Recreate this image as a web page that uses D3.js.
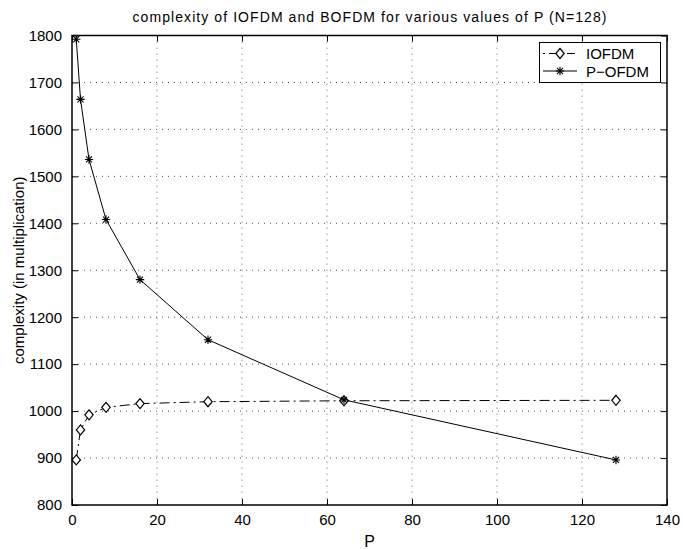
<!DOCTYPE html>
<html>
<head>
<meta charset="utf-8">
<script src="https://cdn.jsdelivr.net/npm/d3@7"></script>
<style>
html,body{margin:0;padding:0;background:#fff;}
svg{display:block;font-family:"Liberation Sans",Arial,Helvetica,sans-serif;}
</style>
</head>
<body>
<svg id="chart" width="683" height="549"></svg>
<script>
const P = [1, 2, 4, 8, 16, 32, 64, 128];
const iofdm = [896, 960, 992, 1008, 1016, 1020, 1022, 1023];
const pofdm = [1792, 1664, 1536, 1408, 1280, 1152, 1024, 896];
const xTicks = [0, 20, 40, 60, 80, 100, 120, 140];
const yTicks = [800, 900, 1000, 1100, 1200, 1300, 1400, 1500, 1600, 1700, 1800];
const seriesNames = ["IOFDM", "P\u2212OFDM"];
const titleText = "complexity of IOFDM and BOFDM for various values of P (N=128)";
const xLabel = "P";
const yLabel = "complexity (in multiplication)";

const svg = d3.select("#chart");
const L = 72, R = 667, T = 35.5, B = 505;
const x = d3.scaleLinear().domain([0, 140]).range([L, R]);
const y = d3.scaleLinear().domain([800, 1800]).range([B, T]);

// grid
const grid = svg.append("g");
grid.selectAll(".gx").data(xTicks.filter(d => d > 0 && d < 140)).enter().append("line")
  .attr("x1", d => x(d)).attr("x2", d => x(d)).attr("y1", T).attr("y2", B)
  .attr("stroke", "#999").attr("stroke-width", 1).attr("stroke-dasharray", "1.5,4.5");
grid.selectAll(".gy").data(yTicks.filter(d => d > 800 && d < 1800)).enter().append("line")
  .attr("x1", L).attr("x2", R).attr("y1", d => y(d)).attr("y2", d => y(d))
  .attr("stroke", "#555").attr("stroke-width", 1).attr("stroke-dasharray", "1,5");

// axes
const fs = 15;
const fmt = d3.format("d");
const xAxisB = d3.axisBottom(x).tickValues(xTicks).tickSize(-6).tickPadding(9).tickFormat(fmt);
const xAxisT = d3.axisTop(x).tickValues(xTicks).tickSize(-6).tickFormat("");
const yAxisL = d3.axisLeft(y).tickValues(yTicks).tickSize(-6).tickPadding(10).tickFormat(fmt);
const yAxisR = d3.axisRight(y).tickValues(yTicks).tickSize(-6).tickFormat("");
function style(g){
  g.select(".domain").remove();
  g.selectAll("line").attr("stroke", "#000").attr("stroke-width", 1);
  g.selectAll("text").attr("fill", "#000").style("font-size", fs + "px").style("font-family", '"Liberation Sans",Arial,sans-serif');
}
svg.append("g").attr("transform", `translate(0,${B})`).call(xAxisB).call(style);
svg.append("g").attr("transform", `translate(0,${T})`).call(xAxisT).call(style);
svg.append("g").attr("transform", `translate(${L},0)`).call(yAxisL).call(style);
svg.append("g").attr("transform", `translate(${R},0)`).call(yAxisR).call(style);
svg.append("rect").attr("x", L).attr("y", T).attr("width", R - L).attr("height", B - T)
  .attr("fill", "none").attr("stroke", "#000").attr("stroke-width", 1.5);

// lines
const line = d3.line().x(d => x(d[0])).y(d => y(d[1]));
const dIO = P.map((p, i) => [p, iofdm[i]]);
const dPO = P.map((p, i) => [p, pofdm[i]]);
svg.append("path").datum(dIO).attr("d", line).attr("fill", "none").attr("stroke", "#000")
  .attr("stroke-width", 1).attr("stroke-dasharray", "10,4,2,4");
svg.append("path").datum(dPO).attr("d", line).attr("fill", "none").attr("stroke", "#000")
  .attr("stroke-width", 1);

function diamond(g, cx, cy){
  g.append("path").attr("d", `M${cx},${cy-5}L${cx+4.2},${cy}L${cx},${cy+5}L${cx-4.2},${cy}Z`)
    .attr("fill", "#fff").attr("stroke", "#000").attr("stroke-width", 1.2);
}
function star(g, cx, cy){
  const r = 4.2;
  const p = [];
  p.push(`M${cx-r},${cy}L${cx+r},${cy}`);
  p.push(`M${cx},${cy-r}L${cx},${cy+r}`);
  const k = r * 0.72;
  p.push(`M${cx-k},${cy-k}L${cx+k},${cy+k}`);
  p.push(`M${cx-k},${cy+k}L${cx+k},${cy-k}`);
  g.append("path").attr("d", p.join("")).attr("stroke", "#000").attr("stroke-width", 1.1).attr("fill", "none");
}
const mk = svg.append("g");
dIO.forEach(d => diamond(mk, x(d[0]), y(d[1])));
dPO.forEach(d => star(mk, x(d[0]), y(d[1])));

// legend
const lg = svg.append("g");
lg.append("rect").attr("x", 539.5).attr("y", 42.5).attr("width", 121).attr("height", 40)
  .attr("fill", "#fff").attr("stroke", "#000").attr("stroke-width", 1);
const ly = [53.5, 71];
lg.append("line").attr("x1", 543).attr("x2", 577).attr("y1", ly[0]).attr("y2", ly[0])
  .attr("stroke", "#000").attr("stroke-dasharray", "2,4,8,4").attr("stroke-dashoffset", 0);
diamond(lg, 560, ly[0]);
lg.append("line").attr("x1", 543).attr("x2", 577).attr("y1", ly[1]).attr("y2", ly[1]).attr("stroke", "#000");
star(lg, 560, ly[1]);
seriesNames.forEach((n, i) => {
  lg.append("text").attr("x", 586).attr("y", ly[i] + 5.5).text(n).style("font-size", fs + "px");
});

// labels
svg.append("text").attr("x", (L + R) / 2).attr("y", 22).attr("text-anchor", "middle")
  .style("font-size", "14px").attr("textLength", 474).attr("lengthAdjust", "spacing").text(titleText);
svg.append("text").attr("x", (L + R) / 2).attr("y", 547).attr("text-anchor", "middle")
  .style("font-size", "16px").text(xLabel);
svg.append("text").attr("transform", `translate(24,${(T + B) / 2}) rotate(-90)`).attr("text-anchor", "middle")
  .style("font-size", "15px").text(yLabel);
</script>
</body>
</html>
